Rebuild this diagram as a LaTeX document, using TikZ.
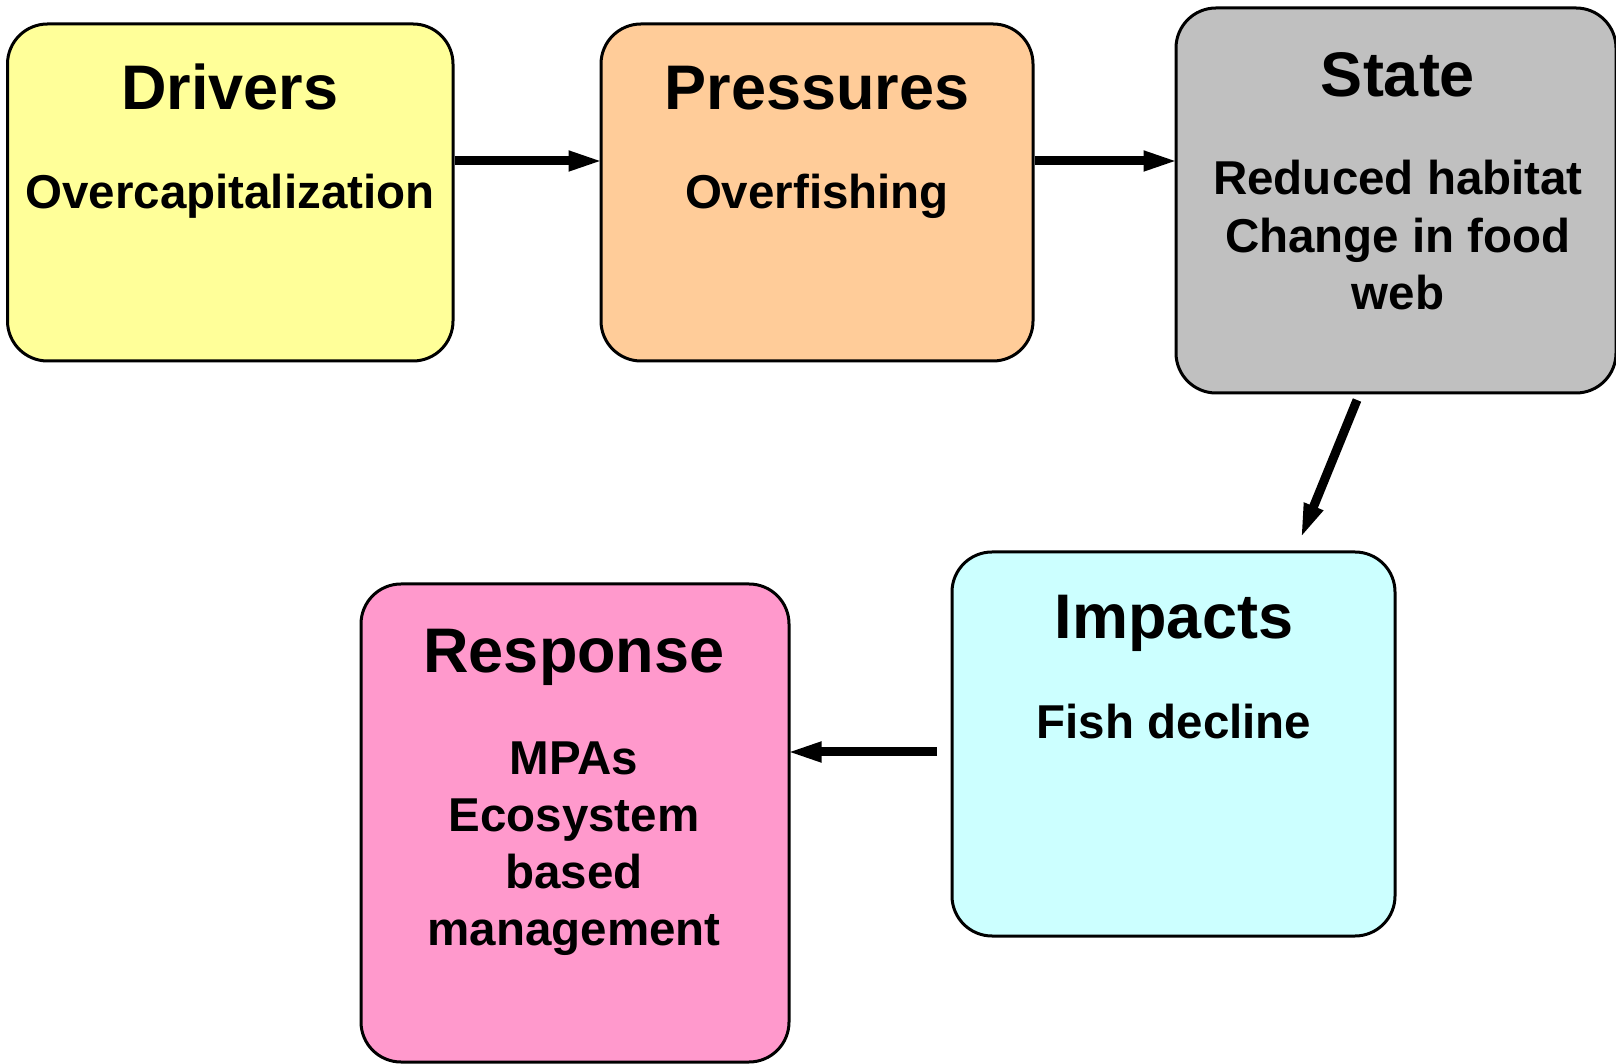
\documentclass[tikz,border=0pt]{standalone}
\usepackage{fontspec}
\setmainfont{Liberation Sans}
\usetikzlibrary{arrows.meta,calc}
\definecolor{cdrv}{HTML}{FFFF99}
\definecolor{cprs}{HTML}{FFCC99}
\definecolor{cstt}{HTML}{C0C0C0}
\definecolor{cimp}{HTML}{CCFFFF}
\definecolor{cres}{HTML}{FF99CC}
\begin{document}
\begin{tikzpicture}[x=1pt,y=1pt,
  box/.style={draw=black, line width=3pt, rounded corners=40pt, rectangle, inner sep=0pt},
  ttl/.style={anchor=base, inner sep=0pt, font=\fontsize{63}{70}\selectfont\bfseries},
  sub/.style={anchor=base, inner sep=0pt, align=center, font=\fontsize{47.5}{57.5}\selectfont\bfseries},
  arr/.style={line width=9pt, shorten >=-5pt, -{Triangle[length=36pt,width=18pt]}}]
\useasboundingbox (0,0) rectangle (1616,1063);
% boxes
\node[box, fill=cdrv, minimum width=445.5pt, minimum height=337pt] (drivers) at (230.25,870.5) {};
\node[box, fill=cprs, minimum width=432pt, minimum height=337pt] (pressures) at (817,870.5) {};
\node[box, fill=cstt, minimum width=440pt, minimum height=385pt] (state) at (1396,862.5) {};
\node[box, fill=cimp, minimum width=443pt, minimum height=384pt] (impacts) at (1173.5,319) {};
\node[box, fill=cres, minimum width=428pt, minimum height=478pt] (response) at (575,240) {};
% texts
\node[ttl] (t1) at (230,953) {Drivers};
\node[sub] (s1) at (230,854) {Overcapitalization};
\node[ttl] (t2) at (817,953) {Pressures};
\node[sub] (s2) at (817,854) {Overfishing};
\node[ttl] (t3) at (1398,966) {State};
\node[sub] (s3a) at (1398,868) {Reduced habitat};
\node[sub] (s3b) at (1398,810.5) {Change in food};
\node[sub] (s3c) at (1398,753) {web};
\node[ttl] (t4) at (1174,424) {Impacts};
\node[sub] (s4) at (1174,324) {Fish decline};
\node[ttl] (t5) at (574,390) {Response};
\node[sub] (s5a) at (574,288) {MPAs};
\node[sub] (s5b) at (574,231) {Ecosystem};
\node[sub] (s5c) at (574,175) {based};
\node[sub] (s5d) at (574,118) {management};
% connectors
\draw[arr] ([yshift=31.5pt]drivers.east) -- ([yshift=31.5pt]pressures.west);
\draw[arr] ([yshift=31.5pt]pressures.east) -- ([yshift=39.5pt]state.west);
\coordinate (a3) at ($(state.south)+(-39,-5.5)$);
\coordinate (b3) at ($(impacts.north)+(128.5,15.5)$);
\draw[arr] (a3) -- (b3);
\coordinate (a4) at ($(impacts.west)+(-13.5,-8)$);
\draw[arr] (a4) -- (a4 -| response.east);
\end{tikzpicture}
\end{document}
